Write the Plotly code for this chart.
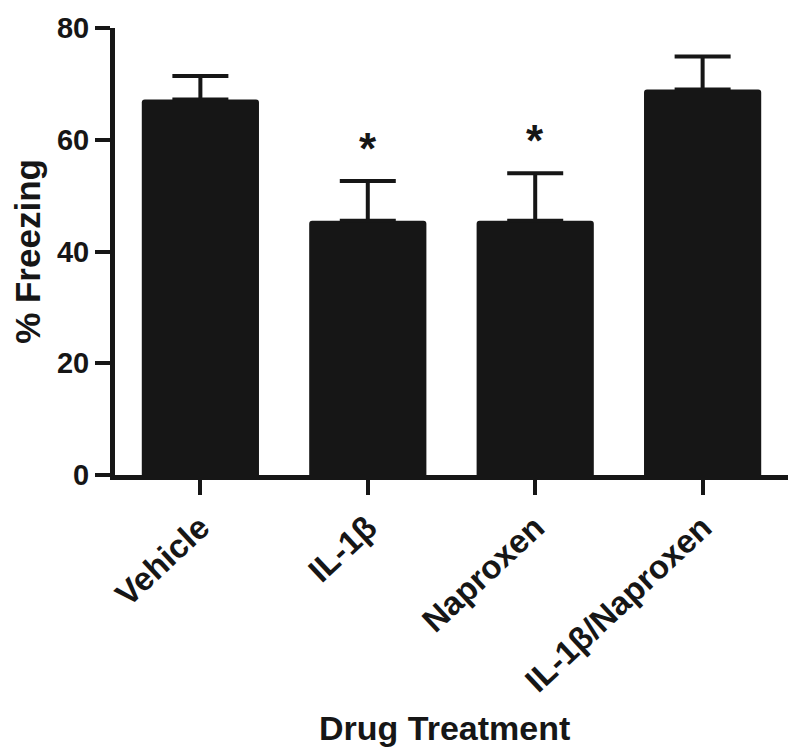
import plotly.graph_objects as go

categories = ["Vehicle", "IL-1β", "Naproxen", "IL-1β/Naproxen"]
means = [67.2, 45.5, 45.5, 69.0]
sem = [4.2, 7.1, 8.5, 5.9]
significant = [False, True, True, False]
y_ticks = [0, 20, 40, 60, 80]

ink = "#161616"
font_family = "Liberation Sans, Arial, sans-serif"

fig = go.Figure()
fig.add_trace(go.Bar(
    x=list(range(len(categories))),
    y=means,
    width=0.7,
    marker=dict(color=ink, line=dict(width=0), cornerradius=3),
    error_y=dict(type="data", array=sem, arrayminus=[0] * len(sem),
                 symmetric=False, color=ink, thickness=4, width=28),
    showlegend=False,
))

for i, (m, s, sig) in enumerate(zip(means, sem, significant)):
    if sig:
        fig.add_annotation(x=i, y=m + s, yshift=33, text="*", showarrow=False,
                           font=dict(family=font_family, size=44, color=ink, weight="bold"))

fig.add_annotation(xref="paper", yref="paper", x=(444 - 115) / (788 - 115), y=(475 - 728) / 447,
                   xanchor="center", yanchor="middle", text="Drug Treatment", showarrow=False,
                   font=dict(family=font_family, size=34, color=ink, weight="bold"))

fig.update_layout(
    width=792, height=745,
    margin=dict(l=107, r=12, t=20, b=278),
    plot_bgcolor="white", paper_bgcolor="white",
    font=dict(family=font_family, color=ink, weight="bold"),
    xaxis=dict(
        range=[-0.51, 3.51],
        automargin=False,
        tickmode="array",
        tickvals=list(range(len(categories))),
        ticktext=categories,
        tickangle=-43,
        ticks="outside", ticklen=15, tickwidth=4, tickcolor=ink,
        showline=True, linewidth=5, linecolor=ink,
        showgrid=False, zeroline=False,
        tickfont=dict(size=33, family=font_family, weight="bold", color=ink),
    ),
    yaxis=dict(
        range=[0, 80],
        automargin=False,
        tickmode="array", tickvals=y_ticks,
        ticks="outside", ticklen=15, tickwidth=4, tickcolor=ink,
        showline=True, linewidth=5, linecolor=ink,
        showgrid=False, zeroline=False,
        tickfont=dict(size=29, family=font_family, weight="bold", color=ink),
        title=dict(text="% Freezing", font=dict(size=35, family=font_family, weight="bold", color=ink),
                   standoff=12),
    ),
)

fig.write_html("out.html")
